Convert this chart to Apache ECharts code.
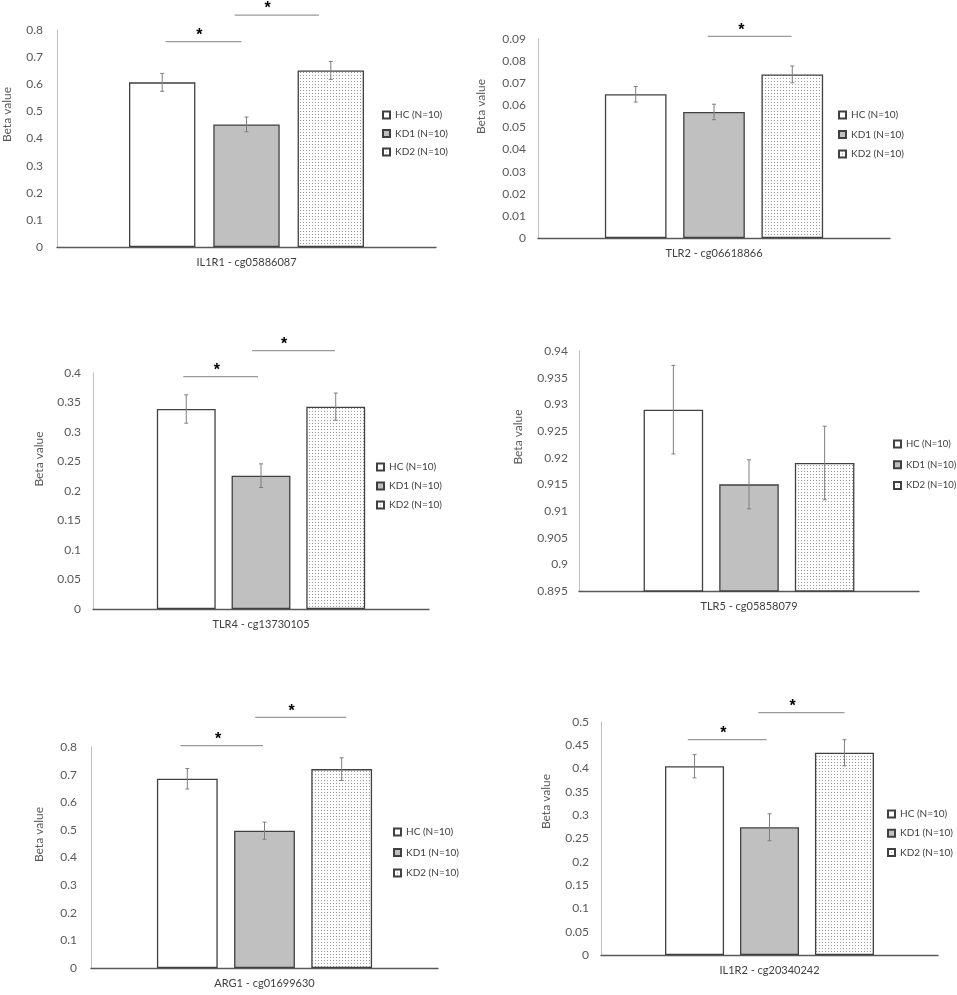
<!DOCTYPE html>
<html>
<head>
<meta charset="utf-8">
<script src="https://cdn.jsdelivr.net/npm/echarts@6/dist/echarts.min.js"></script>
<style>
  html, body { margin: 0; background: #fff; }
  #chart { width: 957px; height: 995px; }
</style>
</head>
<body>
<div id="chart"></div>
<script>
// one category per panel (gene - probe)
const panelNames = [
  "IL1R1 - cg05886087",
  "TLR2 - cg06618866",
  "TLR4 - cg13730105",
  "TLR5 - cg05858079",
  "ARG1 - cg01699630",
  "IL1R2 - cg20340242"
];
const groupNames = ["HC (N=10)", "KD1 (N=10)", "KD2 (N=10)"];

// mean beta values per panel
const hcMean  = [0.607, 0.065, 0.339, 0.929, 0.685, 0.405];
const kd1Mean = [0.452, 0.057, 0.226, 0.915, 0.497, 0.274];
const kd2Mean = [0.651, 0.074, 0.343, 0.919, 0.720, 0.434];

// error bar half-lengths
const hcErr  = [0.033, 0.0035, 0.024, 0.0083, 0.037, 0.025];
const kd1Err = [0.027, 0.0035, 0.020, 0.0046, 0.031, 0.029];
const kd2Err = [0.033, 0.0038, 0.023, 0.0069, 0.041, 0.028];

// y axis ticks
const yMin  = [0, 0, 0, 0.895, 0, 0];
const yMax  = [0.8, 0.09, 0.4, 0.94, 0.8, 0.5];
const yStep = [0.1, 0.01, 0.05, 0.005, 0.1, 0.05];

// significance bars: [from slot, to slot, asterisk slot, height]
const sigBars = [
  [[0.04, 0.94, 0.44, 0.757], [0.86, 1.86, 1.25, 0.855]],
  [[0.92, 1.99, 1.35, 0.0912]],
  [[-0.04, 0.96, 0.41, 0.394], [0.88, 1.99, 1.31, 0.438]],
  [],
  [[-0.09, 0.98, 0.40, 0.805], [0.88, 2.06, 1.35, 0.907]],
  [[-0.09, 0.96, 0.385, 0.462], [0.85, 2.0, 1.31, 0.52]]
];

// page layout of each panel
const layout = [
  { left: 57,  top: 30,  width: 379, height: 217, nameGap: 44, shift: 24, lblMargin: 14, legend: [377, 104, 6.5, 10] },
  { left: 538, top: 39,  width: 352, height: 199, nameGap: 51, shift: 32, lblMargin: 12, legend: [833, 104, 7.5, 10] },
  { left: 93,  top: 373, width: 336, height: 236, nameGap: 48, shift: 32, lblMargin: 12, legend: [371, 456, 7, 10] },
  { left: 579, top: 351, width: 340, height: 240, nameGap: 55, shift: 34, lblMargin: 11, legend: [888, 433, 8.7, 9.5] },
  { left: 91,  top: 747, width: 347, height: 221, nameGap: 46, shift: 23, lblMargin: 14, legend: [388, 821, 8.5, 10] },
  { left: 601, top: 722, width: 337, height: 233, nameGap: 49, shift: 37, lblMargin: 12, legend: [882, 803, 7.2, 10] }
];

const CAT_GAP = 0.38;
const BAR_GAP = 0.27;
const font = "Lato";

// fine dotted fill for KD2
const dots = document.createElement("canvas");
dots.width = 3;
dots.height = 3;
const dctx = dots.getContext("2d");
dctx.fillStyle = "#ffffff";
dctx.fillRect(0, 0, 3, 3);
dctx.fillStyle = "#9a9a9a";
dctx.fillRect(0, 0, 1, 1);

const fills = ["#ffffff", "#c0c0c0", { image: dots, repeat: "repeat" }];
const means = [hcMean, kd1Mean, kd2Mean];
const errs = [hcErr, kd1Err, kd2Err];

function barSlot(api) {
  const band = api.size([1, 0])[0];
  const barW = band * (1 - CAT_GAP) / (3 + 2 * BAR_GAP);
  return barW * (1 + BAR_GAP);
}

function renderErr(params, api) {
  const slot = barSlot(api);
  const mean = api.value(1), err = api.value(2), k = api.value(3);
  const top = api.coord([api.value(0), mean + err]);
  const bot = api.coord([api.value(0), mean - err]);
  const x = top[0] + (k - 1) * slot;
  const st = { stroke: "#7f7f7f", lineWidth: 1 };
  return {
    type: "group",
    children: [
      { type: "line", shape: { x1: x, y1: top[1], x2: x, y2: bot[1] }, style: st },
      { type: "line", shape: { x1: x - 2, y1: top[1], x2: x + 2, y2: top[1] }, style: st },
      { type: "line", shape: { x1: x - 2, y1: bot[1], x2: x + 2, y2: bot[1] }, style: st }
    ]
  };
}

function renderSig(params, api) {
  const slot = barSlot(api);
  const p = api.coord([api.value(0), api.value(1)]);
  const x0 = p[0] - slot;
  return {
    type: "group",
    children: [
      {
        type: "line",
        shape: { x1: x0 + api.value(2) * slot, y1: p[1], x2: x0 + api.value(3) * slot, y2: p[1] },
        style: { stroke: "#9a9a9a", lineWidth: 1.2 }
      },
      {
        type: "text",
        style: {
          x: x0 + api.value(4) * slot, y: p[1] - 6,
          text: "*", fill: "#000", align: "center", verticalAlign: "middle",
          font: "bold 16px Liberation Sans"
        }
      }
    ]
  };
}

const grid = [], xAxis = [], yAxis = [], legend = [], series = [];

layout.forEach((L, i) => {
  grid.push({ left: L.left, top: L.top, width: L.width, height: L.height });
  xAxis.push({
    type: "category", gridIndex: i, data: [panelNames[i]],
    axisLine: { lineStyle: { color: "#595959", width: 1.3 } },
    axisTick: { show: false },
    axisLabel: { margin: 10, fontSize: 11, color: "#404040", fontFamily: font }
  });
  yAxis.push({
    type: "value", gridIndex: i, min: yMin[i], max: yMax[i], interval: yStep[i],
    name: "Beta value", nameLocation: "middle", nameGap: L.nameGap,
    nameTextStyle: { fontSize: 12, color: "#595959", fontFamily: font, padding: [0, 0, 0, 2 * L.shift] },
    axisLine: { show: true, lineStyle: { color: "#bfbfbf", width: 1 } },
    axisTick: { show: false },
    splitLine: { show: false },
    axisLabel: { margin: L.lblMargin, fontSize: 12, color: "#595959", fontFamily: font }
  });
  legend.push({
    orient: "vertical", left: L.legend[0], top: L.legend[1], itemGap: L.legend[2],
    itemWidth: 7, itemHeight: 7, icon: "rect", selectedMode: false,
    data: groupNames,
    textStyle: { fontSize: L.legend[3], lineHeight: 12, color: "#404040", fontFamily: font }
  });
  groupNames.forEach((g, k) => {
    series.push({
      type: "bar", name: g, xAxisIndex: i, yAxisIndex: i,
      data: [means[k][i]],
      barCategoryGap: (CAT_GAP * 100) + "%", barGap: (BAR_GAP * 100) + "%",
      itemStyle: { color: fills[k], borderColor: "#404040", borderWidth: 1.3 },
      emphasis: { disabled: true },
      silent: true
    });
  });
  series.push({
    type: "custom", name: "err" + i, xAxisIndex: i, yAxisIndex: i,
    renderItem: renderErr, silent: true, z: 5,
    encode: { x: 0, y: 1 },
    data: means.map((m, k) => [panelNames[i], m[i], errs[k][i], k])
  });
  if (sigBars[i].length) {
    series.push({
      type: "custom", name: "sig" + i, xAxisIndex: i, yAxisIndex: i,
      renderItem: renderSig, silent: true, clip: false, z: 5,
      encode: { x: 0, y: 1 },
      data: sigBars[i].map(s => [panelNames[i], s[3], s[0], s[1], s[2]])
    });
  }
});

const chart = echarts.init(document.getElementById("chart"));
chart.setOption({
  backgroundColor: "#ffffff",
  animation: false,
  grid, xAxis, yAxis, legend, series
});
</script>
</body>
</html>
